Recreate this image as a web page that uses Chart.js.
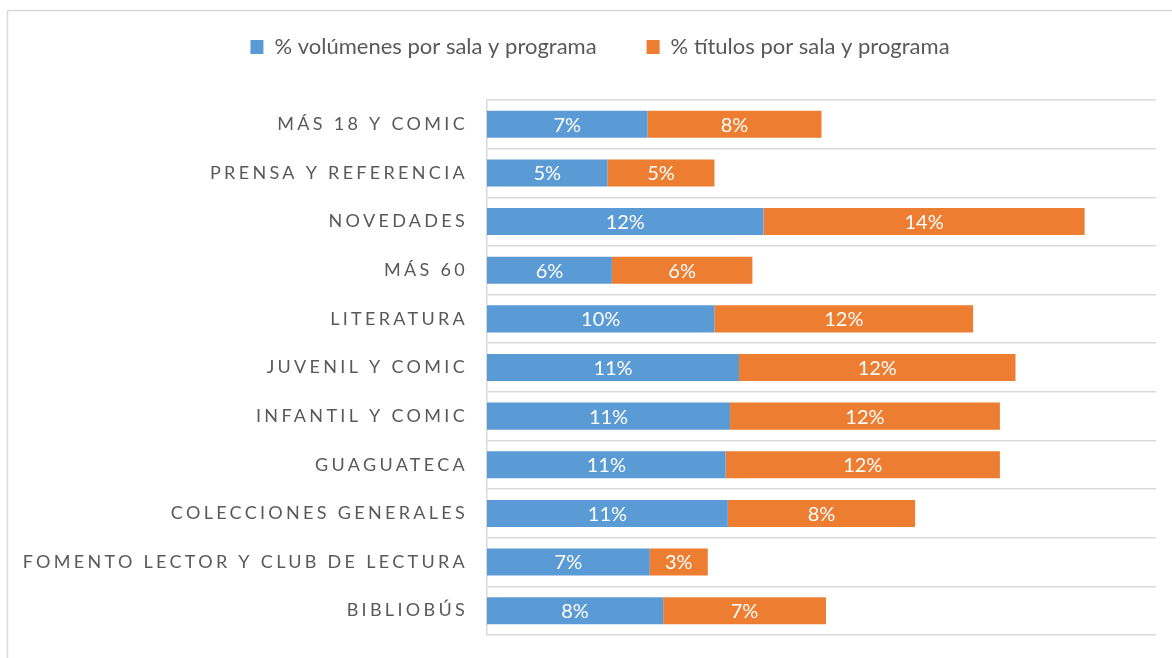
<!DOCTYPE html>
<html><head><meta charset="utf-8">
<script src="https://cdn.jsdelivr.net/npm/chart.js@4.4.0/dist/chart.umd.min.js"></script>
<style>html,body{margin:0;padding:0;background:#fff;}#wrap{position:relative;width:1172px;height:658px;}</style>
</head><body><div id="wrap"><canvas id="c" width="1172" height="658"></canvas></div>
<script>
const categories = ['MÁS 18 Y COMIC','PRENSA Y REFERENCIA','NOVEDADES','MÁS 60','LITERATURA','JUVENIL Y COMIC','INFANTIL Y COMIC','GUAGUATECA','COLECCIONES GENERALES','FOMENTO LECTOR Y CLUB DE LECTURA','BIBLIOBÚS'];
const volumenes = [7.2, 5.4, 12.4, 5.6, 10.2, 11.3, 10.9, 10.7, 10.8, 7.3, 7.9];
const titulos   = [7.8, 4.8, 14.4, 6.3, 11.6, 12.4, 12.1, 12.3, 8.4, 2.6, 7.3];
const seriesNames = ['% volúmenes por sala y programa', '% títulos por sala y programa'];
const axisMax = 30;

const FONT = 'Lato, "Open Sans", sans-serif';
const GRAY = '#595959';
const LETTER = '3.3px';

const framePlugin = {
  id: 'frame',
  afterInit(chart) {
    const lg = chart.legend;
    if (lg) {
      const orig = lg.fit;
      lg.fit = function () { orig.call(this); this.height = 114; };
    }
  },
  afterLayout(chart) {
    const lg = chart.legend;
    if (lg) { lg.left = 44; lg.right = 1156; lg.width = 1112; }
  },
  beforeDraw(chart) {
    const ctx = chart.ctx;
    ctx.save();
    ctx.strokeStyle = '#d9d9d9';
    ctx.lineWidth = 1.5;
    ctx.strokeRect(7.5, 10.5, 1300, 800);
    ctx.restore();
  },
  afterDatasetsDraw(chart) {
    const ctx = chart.ctx;
    ctx.save();
    ctx.fillStyle = '#ffffff';
    ctx.font = '20px ' + FONT;
    ctx.textAlign = 'center';
    ctx.textBaseline = 'middle';
    chart.data.datasets.forEach((ds, di) => {
      const meta = chart.getDatasetMeta(di);
      meta.data.forEach((el, i) => {
        const cx = (el.x + el.base) / 2;
        ctx.fillText(Math.round(ds.data[i]) + '%', cx, el.y + 1);
      });
    });
    ctx.restore();
    ctx.letterSpacing = LETTER;
  },
  afterDraw(chart) {
    chart.ctx.letterSpacing = '0px';
  }
};

new Chart(document.getElementById('c'), {
  type: 'bar',
  data: {
    labels: categories,
    datasets: [
      { label: seriesNames[0], data: volumenes, backgroundColor: '#5B9BD5', borderWidth: 0, barPercentage: 0.556, categoryPercentage: 1 },
      { label: seriesNames[1], data: titulos, backgroundColor: '#ED7D31', borderWidth: 0, barPercentage: 0.556, categoryPercentage: 1 }
    ]
  },
  options: {
    indexAxis: 'y',
    responsive: false,
    animation: false,
    devicePixelRatio: 1,
    layout: { padding: { top: -14, left: 12, right: 16, bottom: 23 } },
    plugins: {
      legend: {
        display: true,
        position: 'top',
        labels: { font: { family: FONT, size: 22 }, color: GRAY, boxWidth: 13, boxHeight: 14, padding: 50 }
      },
      tooltip: { enabled: false }
    },
    scales: {
      x: { stacked: true, min: 0, max: axisMax, display: false },
      y: {
        stacked: true,
        grid: { display: true, color: '#d9d9d9', lineWidth: 1.5, offset: true, drawTicks: false },
        border: { display: true, color: '#d9d9d9', width: 1.5 },
        ticks: { z: 1, font: { family: FONT, size: 18 }, color: GRAY, padding: 19 },
        afterFit(s) { s.width = 475; s.paddingTop = 0; s.paddingBottom = 0; }
      }
    }
  },
  plugins: [framePlugin]
});
</script></body></html>
